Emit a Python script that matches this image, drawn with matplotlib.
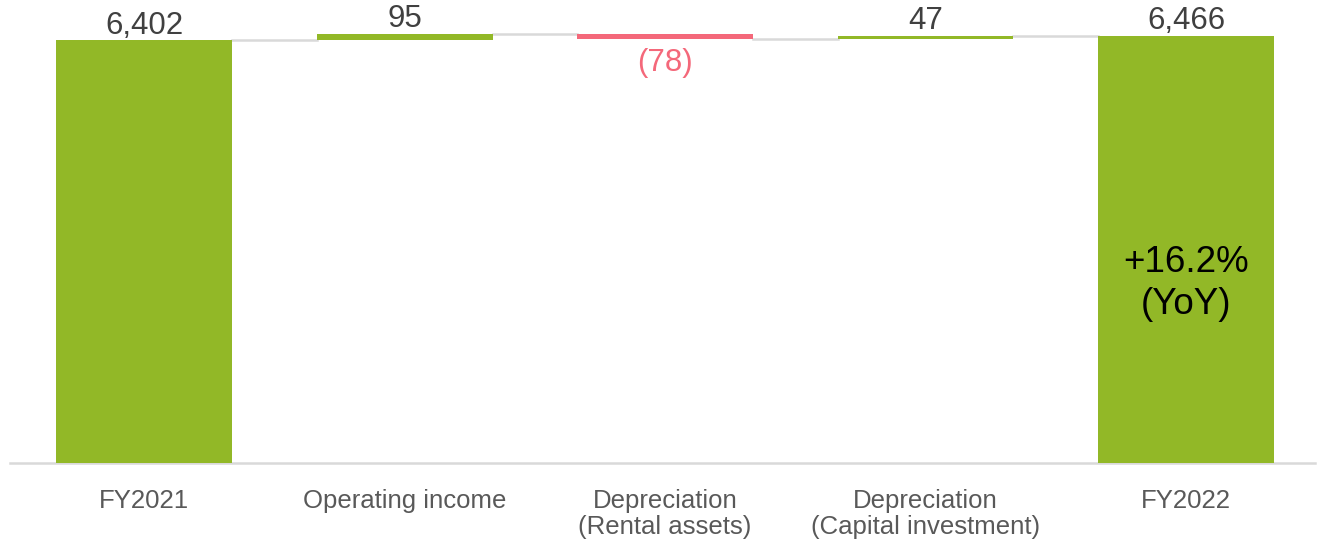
import matplotlib

matplotlib.use("Agg")
import matplotlib.pyplot as plt

categories = ["FY2021", "Operating income", "Depreciation\n(Rental assets)",
              "Depreciation\n(Capital investment)", "FY2022"]
start_total = 6402
changes = [95, -78, 47]
end_total = 6466
value_labels = ["6,402", "95", "(78)", "47", "6,466"]
yoy_note = "+16.2%\n(YoY)"
yoy_y = 2720

GREEN = "#92b827"
RED = "#f4687a"
GRID = "#d9d9d9"

plt.rcParams["font.family"] = ["Liberation Sans", "DejaVu Sans"]

fig = plt.figure(figsize=(13.19, 5.43), dpi=100)
ax = fig.add_axes([10 / 1319, 80 / 543, 1305 / 1319, 463 / 543])

width = 0.675
# running totals for the floating bars
bottoms, heights, colors = [0], [start_total], [GREEN]
run = start_total
for c in changes:
    if c >= 0:
        bottoms.append(run)
        heights.append(c)
        colors.append(GREEN)
    else:
        bottoms.append(run + c)
        heights.append(-c)
        colors.append(RED)
    run += c
bottoms.append(0)
heights.append(end_total)
colors.append(GREEN)

xs = list(range(len(categories)))
ax.bar(xs, heights, width=width, bottom=bottoms, color=colors, zorder=3)

# connector lines between bars
levels = [start_total]
for c in changes:
    levels.append(levels[-1] + c)
for i, lv in enumerate(levels):
    ax.plot([i + width / 2, i + 1 - width / 2], [lv, lv], color=GRID, lw=1.8, zorder=2)

# value labels
for i, (lab, c) in enumerate(zip(value_labels, [start_total] + changes + [end_total])):
    top = bottoms[i] + heights[i]
    if c < 0:
        ax.text(i, bottoms[i] - 140, lab, ha="center", va="top", fontsize=22.5, color=RED)
    else:
        ax.text(i, top - 10, lab, ha="center", va="bottom", fontsize=22.5, color="#404040")

ax.text(4, yoy_y, yoy_note, ha="center", va="center", fontsize=26.5,
        color="black", linespacing=1.25, zorder=4)

ax.set_xlim(-0.515, 4.495)
ax.set_ylim(0, start_total * 463 / 423)
ax.set_xticks(xs)
ax.set_xticklabels(categories, fontsize=18.5, color="#595959", linespacing=1.08)
ax.tick_params(axis="x", length=0, pad=19)
ax.set_yticks([])
for s in ("top", "right", "left"):
    ax.spines[s].set_visible(False)
ax.spines["bottom"].set_color(GRID)
ax.spines["bottom"].set_linewidth(1.8)

fig.savefig("out.png", dpi=100)
